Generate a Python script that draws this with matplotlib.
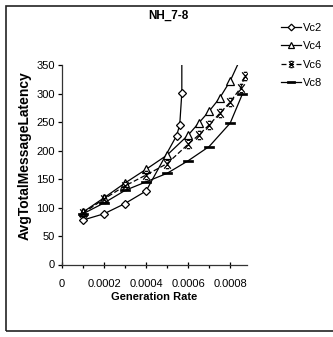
import matplotlib
matplotlib.use('Agg')
import matplotlib.pyplot as plt
from matplotlib.path import Path
from matplotlib.patches import Rectangle

# Datos
vc2_x = [0.0001, 0.0002, 0.0003, 0.0004, 0.000545, 0.00056, 0.00057, 0.00057]
vc2_y = [78, 89, 107, 129, 226, 245, 301, 900]

vc4_x = [0.0001, 0.0002, 0.0003, 0.0004, 0.0005, 0.0006, 0.00065, 0.0007, 0.00075, 0.0008, 0.00085]
vc4_y = [92, 117, 143, 167, 192, 227, 248, 269, 292, 322, 362]

vc6_x = [0.0001, 0.0002, 0.0003, 0.0004, 0.0005, 0.0006, 0.00065, 0.0007, 0.00075, 0.0008, 0.00085, 0.00087]
vc6_y = [90, 115, 138, 157, 177, 211, 227, 245, 265, 285, 310, 331]

vc8_x = [0.0001, 0.0002, 0.0003, 0.0004, 0.0005, 0.0006, 0.0007, 0.0008, 0.000858]
vc8_y = [89, 108, 130, 145, 160, 182, 207, 248, 299]

x_ticks = [0, 0.0002, 0.0004, 0.0006, 0.0008]
x_labels = ['0', '0.0002', '0.0004', '0.0006', '0.0008']
y_ticks = [0, 50, 100, 150, 200, 250, 300, 350]

plt.rcParams['font.family'] = ['Liberation Sans', 'DejaVu Sans']

# marcador estrella estilo Excel (X con barras cortas)
star = Path([(-0.8, -1), (0.8, 1), (-0.8, 1), (0.8, -1), (-0.4, 1), (0.4, 1), (-0.4, -1), (0.4, -1)],
            [Path.MOVETO, Path.LINETO, Path.MOVETO, Path.LINETO,
             Path.MOVETO, Path.LINETO, Path.MOVETO, Path.LINETO])
# marcador guion (rectangulo relleno)
dash = Path([(-1, -0.25), (1, -0.25), (1, 0.25), (-1, 0.25), (-1, -0.25)],
            [Path.MOVETO, Path.LINETO, Path.LINETO, Path.LINETO, Path.CLOSEPOLY])

W, H = 333, 337
fig = plt.figure(figsize=(W / 100, H / 100), dpi=100)
ax = fig.add_axes([62 / W, (H - 264.5) / H, (247 - 62) / W, (264.5 - 65) / H])

ax.plot(vc2_x, vc2_y, color='black', lw=0.9, marker='D', ms=4.5, mfc='white', mec='black', mew=0.9, label='Vc2')
ax.plot(vc4_x, vc4_y, color='black', lw=0.9, marker='^', ms=6, mfc='white', mec='black', mew=0.9, label='Vc4')
ax.plot(vc6_x, vc6_y, color='black', lw=0.9, ls=(0, (4, 2)), marker=star, ms=6, mec='black', mew=0.9, label='Vc6')
ax.plot(vc8_x, vc8_y, color='black', lw=0.9, marker=dash, ms=7, mfc='black', mec='black', mew=0.5, label='Vc8')

ax.set_xlim(0, 0.00088)
ax.set_ylim(0, 350)
ax.set_xticks(x_ticks)
ax.set_xticklabels(x_labels)
ax.set_xticks([0.0001, 0.0003, 0.0005, 0.0007], minor=True)
ax.set_yticks(y_ticks)

for s in ['top', 'right']:
    ax.spines[s].set_visible(False)
for s in ['left', 'bottom']:
    ax.spines[s].set_linewidth(0.9)
    ax.spines[s].set_color('#333333')

ax.tick_params(axis='x', which='major', direction='inout', length=5, width=0.9, pad=8, labelsize=8)
ax.tick_params(axis='x', which='minor', direction='out', length=2, width=0.9)
ax.tick_params(axis='y', which='major', direction='out', length=3, width=0.9, pad=2, labelsize=8)

fig.text(168 / W, 1 - 16 / H, 'NH_7-8', ha='center', va='center', fontsize=8.5, fontweight='bold')
fig.text(154 / W, 1 - 297 / H, 'Generation Rate', ha='center', va='center', fontsize=8, fontweight='bold')
fig.text(25 / W, 1 - 156 / H, 'AvgTotalMessageLatency', ha='center', va='center', rotation=90,
         fontsize=10, fontweight='bold')

fig.legend(loc='upper left', bbox_to_anchor=(281 / W, 1 - 23 / H), frameon=False, fontsize=8,
           handlelength=1.8, handletextpad=0.2, labelspacing=0.75, borderpad=0, borderaxespad=0,
           markerscale=0.75)

# marco exterior del grafico
fig.patches.append(Rectangle((6 / W, 6 / H), 1.2, (H - 12) / H, transform=fig.transFigure,
                             fill=False, edgecolor='#222222', lw=1.2))

fig.savefig('out.png', dpi=100)
